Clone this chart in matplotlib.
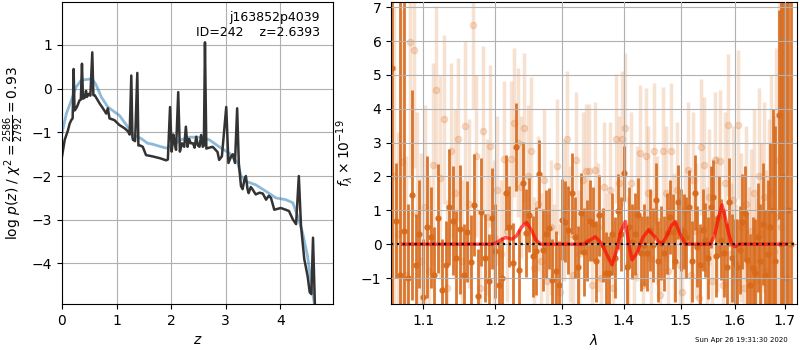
import numpy as np
import matplotlib
matplotlib.use('Agg')
import matplotlib.pyplot as plt
from matplotlib.ticker import NullLocator

# redshift fit: log p(z) and the chi2 curve
z_pz = [0.0, 0.05, 0.11, 0.14, 0.17, 0.195, 0.213, 0.23, 0.26, 0.28, 0.32, 0.345, 0.366, 0.385, 0.42,
        0.44, 0.457, 0.49, 0.52, 0.555, 0.575, 0.6, 0.69, 0.75, 0.81, 0.84, 0.87, 0.96, 1.05,
        1.15, 1.21, 1.24, 1.27, 1.29, 1.30, 1.34, 1.38, 1.40, 1.43, 1.48, 1.54, 1.66, 1.79,
        1.91, 1.94, 1.98, 2.01, 2.04, 2.06, 2.09, 2.13, 2.16, 2.20, 2.24, 2.27, 2.30, 2.33,
        2.36, 2.40, 2.43, 2.46, 2.49, 2.52, 2.55, 2.58, 2.60, 2.62, 2.645, 2.70, 2.76, 2.80,
        2.85, 2.88, 2.93, 3.01, 3.05, 3.10, 3.13, 3.17, 3.21, 3.24, 3.28, 3.31, 3.34, 3.37,
        3.40, 3.42, 3.46, 3.49, 3.55, 3.62, 3.68, 3.74, 3.79, 3.83, 3.89, 3.95, 4.01, 4.10,
        4.16, 4.23, 4.29, 4.34, 4.38, 4.44, 4.50, 4.54, 4.57, 4.60, 4.64, 4.70]
log_pz = [-1.55, -1.17, -0.95, -0.8, -0.72, -0.68, 0.45, -0.5, -0.45, -0.4, -0.27, -0.25, 0.57, -0.23, -0.2,
          -0.05, -0.19, -0.12, -0.16, 0.83, -0.15, -0.15, -0.34, -0.45, -0.57, -0.45, -0.68, -0.72, -0.83,
          -0.91, -0.98, -1.05, 0.30, -1.1, -1.17, -1.2, 0.36, -1.3, -1.3, -1.33, -1.52, -1.55, -1.59,
          -1.64, -1.62, -0.42, -1.44, -1.05, -1.2, -1.4, -0.08, -1.44, -1.25, -1.33, -0.87, -1.33, -1.15,
          -1.25, -1.25, -1.35, -1.1, -1.3, -1.33, -1.06, -1.33, -1.3, 1.06, -1.37, -1.35, -1.33, -1.38,
          -1.45, -1.63, -1.55, -0.42, -1.7, -1.55, -1.5, -1.7, -0.45, -1.7, -2.23, -2.3, -2.1, -2.0,
          -2.3, -2.39, -2.25, -2.3, -2.42, -2.38, -2.4, -2.54, -2.45, -2.5, -2.77, -2.75, -2.73, -2.77,
          -2.8, -2.99, -3.1, -2.0, -3.14, -3.9, -4.28, -4.66, -4.7, -3.41, -5.2, -6.0]

z_chi = [0.0, 0.08, 0.17, 0.26, 0.35, 0.45, 0.52, 0.57, 0.62, 0.72, 0.84, 0.96, 1.05, 1.18, 1.30,
         1.45, 1.57, 1.66, 1.79, 1.91, 2.03, 2.18, 2.34, 2.52, 2.70, 2.88, 3.07, 3.22, 3.28, 3.37,
         3.55, 3.74, 3.92, 4.10, 4.23, 4.32, 4.41, 4.50, 4.59, 4.65]
chi_curve = [-1.02, -0.57, -0.27, 0.04, 0.19, 0.21, 0.22, 0.19, 0.1, -0.19, -0.42, -0.53, -0.61, -0.83, -1.06,
             -1.14, -1.25, -1.27, -1.32, -1.36, -1.29, -1.17, -1.11, -1.11, -1.17, -1.33, -1.48, -1.70, -2.0, -2.12,
             -2.2, -2.35, -2.5, -2.54, -2.61, -2.92, -3.3, -3.83, -4.66, -5.1]

# 1D spectrum, binned (dark) points
wave_bin = [1.060, 1.065, 1.070, 1.075, 1.080, 1.085, 1.090, 1.095, 1.100, 1.105, 1.110, 1.115, 1.120,
            1.125, 1.130, 1.135, 1.140, 1.145, 1.150, 1.155, 1.160, 1.165, 1.170, 1.175, 1.180, 1.185,
            1.190, 1.195, 1.200, 1.205, 1.210, 1.215, 1.220, 1.225, 1.230, 1.235, 1.240, 1.245, 1.250,
            1.255, 1.260, 1.265, 1.270, 1.275, 1.280, 1.285, 1.290, 1.295, 1.300, 1.305, 1.310, 1.315,
            1.320, 1.325, 1.330, 1.335, 1.340, 1.345, 1.350, 1.355, 1.360, 1.365, 1.370, 1.375, 1.380,
            1.385, 1.390, 1.395, 1.400, 1.405, 1.410, 1.415, 1.420, 1.425, 1.430, 1.435, 1.440, 1.445,
            1.450, 1.455, 1.460, 1.465, 1.470, 1.475, 1.480, 1.485, 1.490, 1.495, 1.500, 1.505, 1.510,
            1.515, 1.520, 1.525, 1.530, 1.535, 1.540, 1.545, 1.550, 1.555, 1.560, 1.565, 1.570, 1.575,
            1.580, 1.585, 1.590, 1.595, 1.600, 1.605, 1.610, 1.615, 1.620, 1.625, 1.630, 1.635, 1.640,
            1.645, 1.650, 1.655, 1.660, 1.665, 1.670, 1.675, 1.680, 1.687, 1.692, 1.697, 1.702, 1.707,
            1.712]
flux_bin = [5.2, 0.7, -0.9, 0.4, -1.0, 1.45, -0.6, 0.3, -1.55, 0.5, 0.2, -0.9, 0.76,
            -1.34, -0.6, 1.1, 0.7, -0.41, 0.44, -0.9, 0.37, -0.53, 1.16, -1.54, 0.96, -0.41,
            -1.1, 0.76, -0.2, -1.2, -1.0, 1.52, 0.52, -0.56, 2.87, -0.75, 1.81, 0.32, 0.86,
            -0.36, -0.2, 2.07, -0.17, 0.3, 0.47, -1.05, -0.8, -1.2, 0.72, 0.67, 0.42, 1.5,
            0.2, -0.66, 0.91, -0.22, 0.1, 0.7, 0.6, -0.51, 0.85, -0.02, -0.85, -0.85, 0.3,
            -0.4, 0.97, 0.3, 2.09, -0.66, 0.5, 0.08, 0.3, 0.86, -0.27, -0.02, -0.27, 0.42,
            -0.02, 1.3, -0.51, 0.03, -0.27, 0.32, 0.81, 0.37, -0.5, 1.25, 0.42, 0.37, 0.2,
            1.1, -0.51, 1.52, -0.07, -0.6, 0.42, 0.13, -0.41, 1.1, 1.4, -0.36, 0.81, 0.13,
            -0.27, -0.66, 1.25, -0.41, -0.56, -0.66, -0.17, 0.67, 0.91, -0.46, -1.2, -0.7, -0.85,
            0.2, -0.5, 0.6, -0.9, -0.3, 0.5, 1.0, -0.5, 3.83, 0.0, 2.0, -1.0, 1.0,
            0.0]
err_bin = [9.0, 1.7, 8.5, 8.0, 2.2, 3.1, 1.5, 1.6, 1.7, 2.1, 1.5, 1.4, 1.6,
           1.5, 1.3, 1.7, 1.6, 1.4, 1.9, 1.5, 1.5, 1.4, 1.5, 1.4, 1.6, 1.3,
           1.4, 1.5, 1.4, 1.3, 1.2, 1.1, 1.2, 1.2, 1.3, 1.2, 1.2, 1.3, 1.1,
           1.2, 1.3, 1.0, 1.2, 1.3, 1.2, 1.2, 1.2, 1.3, 1.2, 1.2, 1.3, 1.2,
           1.2, 1.2, 1.2, 1.3, 1.2, 1.2, 1.1, 1.2, 1.2, 1.1, 1.2, 1.1, 1.2,
           1.2, 1.1, 1.1, 0.8, 1.1, 1.2, 1.1, 1.2, 1.1, 1.1, 1.2, 1.1, 1.2,
           1.1, 1.1, 1.2, 1.1, 1.1, 1.2, 1.1, 1.1, 1.2, 1.1, 1.2, 1.1, 1.2,
           1.1, 1.2, 1.1, 1.2, 1.2, 1.2, 1.1, 1.2, 1.2, 1.1, 1.2, 1.2, 1.2,
           1.3, 1.3, 1.3, 1.3, 1.3, 1.4, 1.3, 1.4, 1.4, 1.4, 1.5, 1.5, 1.6,
           1.6, 1.7, 1.8, 1.9, 2.2, 2.5, 3.0, 4.0, 3.1, 9.0, 9.0, 10.0, 10.0,
           10.0]

# 1D spectrum, full resolution (light) points
wave_raw = [1.0625, 1.0675, 1.0725, 1.0775, 1.0825, 1.0875, 1.0925, 1.0975, 1.1025, 1.1075, 1.1125,
            1.1175, 1.1225, 1.1275, 1.1325, 1.1375, 1.1425, 1.1475, 1.1525, 1.1575, 1.1625, 1.1675,
            1.1725, 1.1775, 1.1825, 1.1875, 1.1925, 1.1975, 1.2025, 1.2075, 1.2125, 1.2175, 1.2225,
            1.2275, 1.2325, 1.2375, 1.2425, 1.2475, 1.2525, 1.2575, 1.2625, 1.2675, 1.2725, 1.2775,
            1.2825, 1.2875, 1.2925, 1.2975, 1.3025, 1.3075, 1.3125, 1.3175, 1.3225, 1.3275, 1.3325,
            1.3375, 1.3425, 1.3475, 1.3525, 1.3575, 1.3625, 1.3675, 1.3725, 1.3775, 1.3825, 1.3875,
            1.3925, 1.3975, 1.4025, 1.4075, 1.4125, 1.4175, 1.4225, 1.4275, 1.4325, 1.4375, 1.4425,
            1.4475, 1.4525, 1.4575, 1.4625, 1.4675, 1.4725, 1.4775, 1.4825, 1.4875, 1.4925, 1.4975,
            1.5025, 1.5075, 1.5125, 1.5175, 1.5225, 1.5275, 1.5325, 1.5375, 1.5425, 1.5475, 1.5525,
            1.5575, 1.5625, 1.5675, 1.5725, 1.5775, 1.5825, 1.5875, 1.5925, 1.5975, 1.6025, 1.6075,
            1.6125, 1.6175, 1.6225, 1.6275, 1.6325, 1.6375, 1.6425, 1.6475, 1.6525, 1.6575, 1.6625,
            1.6675, 1.6725, 1.6775, 1.6825, 1.6875, 1.6925, 1.6975]
flux_raw = [2.0, 0.3, 2.43, -0.9, 5.96, 5.74, 0.9, -0.5, 1.1, -0.8, 2.35,
            4.54, 1.97, 3.69, -1.3, 2.75, 1.5, 3.1, -0.5, 3.5, 1.2, 6.48,
            2.6, -1.3, 3.34, 0.8, 2.9, 0.2, 1.6, -0.3, 2.53, 0.4, 2.53,
            3.59, 3.0, 1.7, 3.44, 2.0, 2.75, -0.7, 1.2, -0.5, 1.9, -1.1,
            0.5, -0.9, 2.3, -1.4, 1.0, 3.12, 0.3, -0.9, 2.5, -0.3, 1.9,
            2.15, 2.15, -1.2, 2.2, 0.5, -1.0, 1.7, -0.4, 1.6, -1.3, 3.12,
            1.8, 3.12, 3.44, -0.6, 1.8, -0.9, 0.9, 2.7, -1.2, 2.6, 1.5,
            -0.4, 2.75, 0.7, -1.5, 2.75, 1.5, -0.8, 2.75, 0.2, 1.6, -0.6,
            -1.4, 1.0, 2.2, -0.9, 1.9, 0.4, -1.6, 2.87, 2.35, -0.3, 1.4,
            -1.1, 2.5, 0.6, 2.45, -1.2, 1.8, 3.52, -0.3, 1.3, -1.0, 3.53,
            0.5, -1.3, 1.2, -0.6, 0.4, 1.5, -1.1, 2.0, 0.3, 1.4, -0.8,
            0.5, 1.5, -0.2, 0.8, 2.5, 0.5, 1.0]
err_raw = [5.0, 3.0, 4.5, 3.5, 4.0, 3.5, 3.0, 3.2, 3.0, 2.8, 3.0,
           2.5, 3.0, 2.5, 2.6, 2.6, 2.5, 2.4, 2.4, 2.5, 2.5, 2.5,
           2.4, 2.3, 2.5, 2.3, 2.4, 2.3, 2.2, 2.2, 2.3, 2.1, 2.3,
           2.2, 2.2, 2.1, 2.2, 2.1, 2.2, 2.1, 2.0, 2.0, 2.1, 2.0,
           2.0, 2.1, 2.0, 2.0, 2.1, 2.0, 2.0, 2.0, 2.0, 1.9, 2.0,
           2.0, 2.0, 1.9, 2.0, 1.9, 2.0, 1.9, 1.9, 2.0, 2.0, 1.9,
           2.0, 2.0, 2.2, 2.0, 2.1, 2.0, 2.0, 2.0, 2.0, 2.0, 2.0,
           2.0, 2.0, 1.9, 2.0, 1.9, 2.0, 1.9, 2.0, 1.9, 2.0, 2.0,
           2.0, 2.0, 2.0, 1.9, 2.0, 2.0, 2.0, 2.0, 2.0, 2.0, 2.0,
           2.0, 2.0, 2.0, 2.1, 2.0, 2.1, 2.1, 2.1, 2.2, 2.2, 2.2,
           2.2, 2.3, 2.3, 2.3, 2.4, 2.5, 2.5, 2.6, 2.7, 2.8, 3.0,
           3.2, 3.5, 4.0, 5.0, 6.0, 7.0, 8.0]

# best-fit line model
wave_model = [1.073, 1.150, 1.195, 1.200, 1.207, 1.2147, 1.2244, 1.231, 1.238, 1.2458, 1.253,
              1.260, 1.2669, 1.3345, 1.343, 1.3532, 1.3643, 1.372, 1.3808, 1.388, 1.395, 1.4030,
              1.409, 1.4143, 1.4228, 1.433, 1.4428, 1.452, 1.4600, 1.4660, 1.475, 1.483, 1.4899,
              1.497, 1.5080, 1.5540, 1.562, 1.569, 1.5759, 1.582, 1.589, 1.595, 1.6012, 1.610,
              1.7034]
flux_model = [0.0, 0.0, 0.0, 0.03, 0.12, 0.2, 0.15, 0.25, 0.5, 0.64, 0.42,
              0.12, 0.0, 0.0, 0.1, 0.22, 0.0, -0.3, -0.61, -0.2, 0.35, 0.67,
              0.0, -0.46, -0.26, 0.2, 0.42, 0.25, 0.08, 0.0, 0.25, 0.55, 0.67,
              0.35, 0.0, 0.0, 0.25, 0.75, 1.16, 0.8, 0.3, 0.0, -0.07, 0.0,
              0.0]

wave_ticks = [1.1, 1.2, 1.3, 1.4, 1.5, 1.6, 1.7]

fig = plt.figure(figsize=(8, 3.5), dpi=100)

ax = fig.add_axes([0.0775, 0.131, 0.339, 0.863])
ax.plot(z_chi, chi_curve, color='tab:blue', alpha=0.5, lw=2)
ax.plot(z_pz, log_pz, color='0.2', lw=1.8)
ax.set_xlim(0, 4.97)
ax.set_ylim(-4.93, 1.98)
ax.set_xlabel('$z$')
ax.set_ylabel(r'log $p(z)$ / $\chi^2=\frac{2586}{2792}=0.93$')
ax.grid()
ax.text(0.95, 0.97, 'j163852p4039\nID=242    z=2.6393', transform=ax.transAxes,
        ha='right', va='top', fontsize=9)

# spectrum panel
ax2 = fig.add_axes([0.489, 0.131, 0.507, 0.863])
col = '#d8691a'
ax2.errorbar(wave_raw, flux_raw, yerr=err_raw, fmt='o', color=col, alpha=0.2,
             ms=4.5, lw=2.5, elinewidth=2.5, zorder=1)
ax2.errorbar(wave_bin, flux_bin, yerr=err_bin, fmt='o', color=col, alpha=0.9,
             ms=3.5, lw=2.0, elinewidth=2.0, zorder=2)
ax2.plot(wave_model, flux_model, color='red', alpha=0.65, lw=2.5, zorder=4)
ax2.axhline(0, color='k', ls=':', lw=1.6, zorder=5)
ax2.set_xscale('log')
ax2.set_xlim(1.0585, 1.7245)
ax2.set_ylim(-1.77, 7.15)
ax2.set_xticks(wave_ticks)
ax2.set_xticklabels([f'{t:.1f}' for t in wave_ticks])
ax2.xaxis.set_minor_locator(NullLocator())
ax2.set_xlabel(r'$\lambda$')
ax2.set_ylabel(r'$f_\lambda\times10^{-19}$')
ax2.set_axisbelow(False)
ax2.grid(zorder=6)

fig.text(0.985, 0.028, 'Sun Apr 26 19:31:30 2020', ha='right', va='center', fontsize=5)

fig.savefig('out.png', dpi=100)
